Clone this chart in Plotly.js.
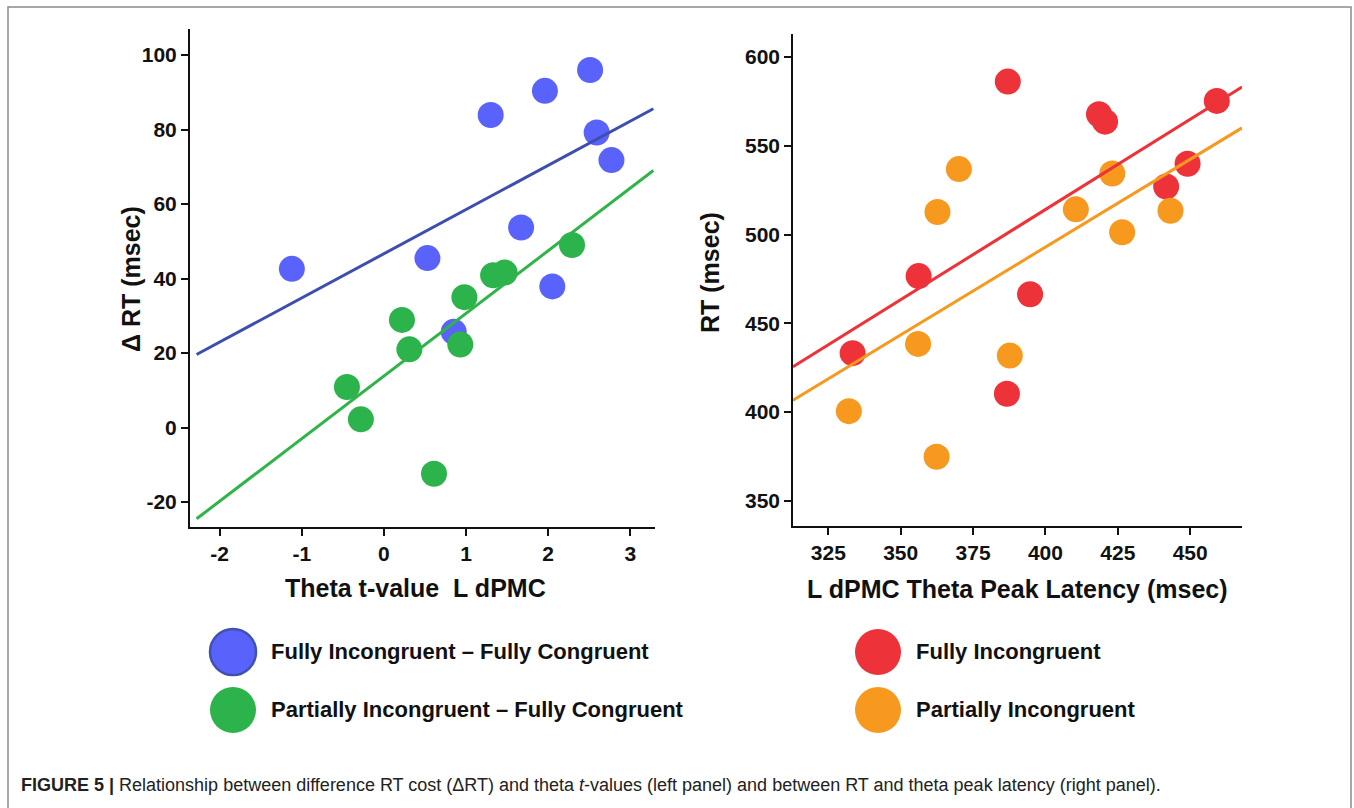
<!DOCTYPE html>
<html>
<head>
<meta charset="utf-8">
<script src="https://cdn.plot.ly/plotly-3.0.1.min.js"></script>
<style>
html,body{margin:0;padding:0;background:#fff;}
#chart{width:1354px;height:808px;}
</style>
</head>
<body>
<div id="chart"></div>
<script>
// ---- Left panel data: Theta t-value L dPMC vs ΔRT ----
const blueX = [-1.12, 0.53, 1.30, 1.96, 2.51, 2.59, 2.77, 1.67, 2.05, 0.85];
const blueY = [42.6, 45.5, 83.9, 90.4, 96.0, 79.2, 71.8, 53.7, 37.9, 25.7];
const greenX = [-0.45, -0.28, 0.22, 0.31, 0.93, 0.98, 1.33, 1.47, 2.29, 0.61];
const greenY = [10.9, 2.2, 28.9, 21.0, 22.3, 35.0, 40.9, 41.6, 49.0, -12.4];
const leftFitX = [-2.28, 3.28];
const blueFitY = [19.6, 85.6];
const greenFitY = [-24.5, 69.0];
const leftXTicks = [-2, -1, 0, 1, 2, 3];
const leftXTickText = ['-2', '-1', '0', '1', '2', '3'];
const leftYTicks = [-20, 0, 20, 40, 60, 80, 100];
const leftYTickText = ['-20', '0', '20', '40', '60', '80', '100'];

// ---- Right panel data: L dPMC theta peak latency vs RT ----
const redX = [387.0, 418.5, 420.6, 459.2, 449.1, 441.7, 356.2, 394.7, 333.4, 386.7];
const redY = [586.2, 567.8, 563.6, 575.3, 539.9, 527.1, 476.6, 466.4, 433.2, 410.3];
const orangeX = [370.1, 362.7, 410.5, 423.1, 426.5, 443.2, 356.0, 387.7, 332.1, 362.4];
const orangeY = [536.9, 512.7, 514.2, 534.4, 501.3, 513.4, 438.4, 431.8, 400.5, 374.8];
const rightFitX = [312.8, 467.9];
const redFitY = [425.5, 583.1];
const orangeFitY = [406.7, 560.1];
const rightXTicks = [325, 350, 375, 400, 425, 450];
const rightYTicks = [350, 400, 450, 500, 550, 600];

const axisTitles = {
  leftX: 'Theta t-value\u00a0\u00a0L dPMC',
  leftY: '\u0394 RT (msec)',
  rightX: 'L dPMC Theta Peak Latency (msec)',
  rightY: 'RT (msec)'
};
const legendLabels = [
  'Fully Incongruent \u2013 Fully Congruent',
  'Partially Incongruent \u2013 Fully Congruent',
  'Fully Incongruent',
  'Partially Incongruent'
];
const caption = '<b>FIGURE 5 |</b> Relationship between difference RT cost (\u0394RT) and theta <i>t</i>-values (left panel) and between RT and theta peak latency (right panel).';

// ---- styling ----
const W = 1354, H = 808;
const C = {
  blue: '#5a62fc', blueLine: '#3d4fae', blueEdge: '#3f52b0',
  green: '#2cb34b', greenLine: '#30b44a',
  red: '#ee3239', orange: '#f7991f'
};
const FONT = 'Liberation Sans, Arial, sans-serif';
const px = x => x / W;
const py = y => 1 - y / H;

function pts(x, y, color, xa, ya) {
  return {x: x, y: y, xaxis: xa, yaxis: ya, type: 'scatter', mode: 'markers',
    marker: {color: color, size: 26, line: {width: 0}}, hoverinfo: 'x+y', showlegend: false};
}
function fit(x, y, color, xa, ya) {
  return {x: x, y: y, xaxis: xa, yaxis: ya, type: 'scatter', mode: 'lines',
    line: {color: color, width: 3}, hoverinfo: 'skip', showlegend: false};
}

const data = [
  pts(blueX, blueY, C.blue, 'x', 'y'),
  pts(greenX, greenY, C.green, 'x', 'y'),
  fit(leftFitX, blueFitY, C.blueLine, 'x', 'y'),
  fit(leftFitX, greenFitY, C.greenLine, 'x', 'y'),
  pts(redX, redY, C.red, 'x2', 'y2'),
  pts(orangeX, orangeY, C.orange, 'x2', 'y2'),
  fit(rightFitX, redFitY, C.red, 'x2', 'y2'),
  fit(rightFitX, orangeFitY, C.orange, 'x2', 'y2')
];

const tickFont = {family: FONT, size: 21, color: '#111', weight: 'bold'};
const titleFont = {family: FONT, size: 25, color: '#111', weight: 'bold'};
function axis(extra) {
  return Object.assign({
    showline: true, linecolor: '#111', linewidth: 2, showgrid: false, zeroline: false,
    ticks: 'outside', ticklen: 7, tickwidth: 1.5, tickcolor: '#111', tickfont: tickFont,
    fixedrange: true, automargin: false
  }, extra);
}

const shapes = [
  {type: 'rect', xref: 'paper', yref: 'paper', x0: px(8), x1: px(1351), y0: py(830), y1: py(7),
    line: {color: '#8a8a8a', width: 1.5}, fillcolor: 'rgba(0,0,0,0)'}
];
const legendItems = [
  {cx: 233, cy: 652, color: C.blue, edge: C.blueEdge, edgeW: 2.5},
  {cx: 233, cy: 710, color: C.green, edge: C.green, edgeW: 0},
  {cx: 878, cy: 652, color: C.red, edge: C.red, edgeW: 0},
  {cx: 878, cy: 710, color: C.orange, edge: C.orange, edgeW: 0}
];
const r = 23;
legendItems.forEach(it => {
  shapes.push({type: 'circle', xref: 'paper', yref: 'paper',
    x0: px(it.cx - r), x1: px(it.cx + r), y0: py(it.cy + r), y1: py(it.cy - r),
    fillcolor: it.color, line: {color: it.edge, width: it.edgeW}});
});

const annotations = [];
legendItems.forEach((it, i) => {
  annotations.push({xref: 'paper', yref: 'paper', x: px(it.cx + 36), y: py(it.cy - 1),
    xanchor: 'left', yanchor: 'middle', showarrow: false, text: '<b>' + legendLabels[i] + '</b>',
    font: {family: FONT, size: 22, color: '#111'}});
});
// axis titles
function title(text, x, y, angle) {
  return {xref: 'paper', yref: 'paper', x: px(x), y: py(y), xanchor: 'center', yanchor: 'middle',
    showarrow: false, text: text, textangle: angle, font: titleFont};
}
annotations.push(title(axisTitles.leftX, 415, 588, 0));
annotations.push(title(axisTitles.rightX, 1017, 589, 0));
annotations.push(title(axisTitles.leftY, 131, 279, -90));
annotations.push(title(axisTitles.rightY, 710, 273, -90));
annotations.push({xref: 'paper', yref: 'paper', x: px(19), y: py(785), xanchor: 'left', yanchor: 'middle',
  showarrow: false, text: caption, font: {family: FONT, size: 18, color: '#222'}});

const layout = {
  width: W, height: H,
  margin: {l: 0, r: 0, t: 0, b: 0},
  paper_bgcolor: '#fff', plot_bgcolor: '#fff',
  showlegend: false,
  xaxis: axis({domain: [px(190), px(655)], range: [-2.36, 3.30], tickvals: leftXTicks, ticktext: leftXTickText, anchor: 'y'}),
  yaxis: axis({domain: [py(527), py(29)], range: [-26.7, 107], tickvals: leftYTicks, ticktext: leftYTickText, anchor: 'x'}),
  xaxis2: axis({domain: [px(793), px(1242)], range: [312.8, 467.9], tickvals: rightXTicks, linewidth: 1.5, anchor: 'y2'}),
  yaxis2: axis({domain: [py(526), py(34)], range: [335.8, 613], tickvals: rightYTicks, linewidth: 1.5, anchor: 'x2'}),
  shapes: shapes,
  annotations: annotations
};

Plotly.newPlot('chart', data, layout, {displayModeBar: false});
</script>
</body>
</html>
